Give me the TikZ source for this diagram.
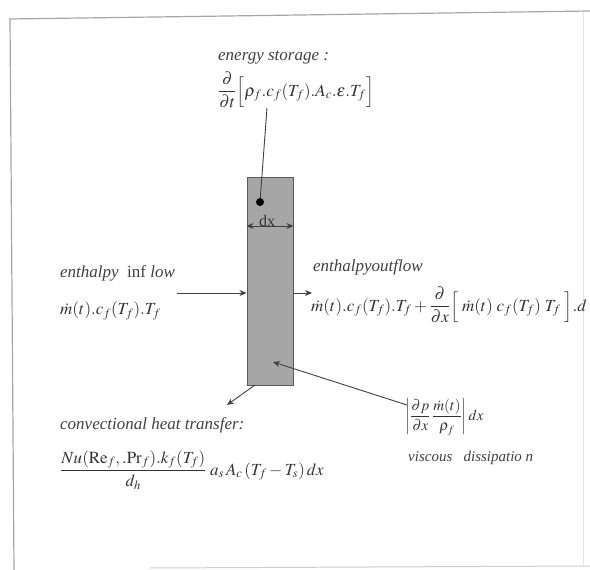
\documentclass[tikz,border=0pt]{standalone}
\usepackage{amsmath}
\usepackage{mathptmx}
\usepackage{fontspec}
\setmainfont{Liberation Serif}
\usetikzlibrary{arrows.meta}
\tikzset{
  frameline/.style={draw=gray!70, line width=1.2pt},
  lbl/.style={anchor=west, inner sep=0pt, text=black!75},
  fml/.style={anchor=west, inner sep=0pt, text=black!80},
  conn/.style={draw=black!75, line width=0.9pt},
  arr/.style={conn, -{Stealth[length=7pt,width=6pt]}},
  cell/.style={draw=black!65, line width=1pt, fill=gray!70, inner sep=0pt, minimum width=46pt, minimum height=208pt}
}
\begin{document}
\begin{tikzpicture}[x=1pt,y=-1pt]
\useasboundingbox (0,0) rectangle (590,570);
% frame
\draw[frameline] (9,19) -- (590,11);
\draw[frameline] (10,19) -- (14,570);
\draw[draw=gray!40, line width=1pt] (150,568) -- (590,566);
\draw[draw=gray!20, line width=0.8pt] (583,12) -- (583,566);
% control volume
\node[cell] (box) at (270,281) {};
% energy storage
\node[lbl, font=\fontsize{17}{19}\selectfont\itshape] (es) at (218,58) {energy storage :};
\node[fml, font=\fontsize{17}{19}\selectfont] (esf) at (218,90) {$\dfrac{\partial}{\partial t}\Big[\rho_f.c_f(T_f).A_c.\varepsilon.T_f\Big]$};
\coordinate (esA) at (267,108);
\node[circle, fill=black, inner sep=0pt, minimum size=8pt] (dot) at (260,202) {};
\draw[conn] (esA) -- (dot);
% dx
\coordinate (dxL) at (box.west |- 0,226);
\coordinate (dxR) at (box.east |- 0,226);
\draw[conn, {Stealth[length=7pt,width=6pt]}-{Stealth[length=7pt,width=6pt]}] (dxL) -- (dxR);
\node[inner sep=0pt, font=\fontsize{16}{18}\selectfont, text=black!80] (dx) at (267,221) {dx};
% inflow
\node[lbl, font=\fontsize{17}{19}\selectfont] (inl) at (60,273) {\textit{enthalpy}\ \ inf \textit{low}};
\node[fml, font=\fontsize{17}{19}\selectfont] (inf) at (60,311) {$\dot m(t).c_f(T_f).T_f$};
\coordinate (inA) at (177,293);
\draw[arr] (inA) -- (inA -| box.west);
% outflow
\node[lbl, font=\fontsize{17}{19}\selectfont\itshape] (outl) at (313,267) {enthalpyoutflow};
\node[fml, font=\fontsize{17}{19}\selectfont] (outf) at (311,305) {$\dot m(t).c_f(T_f).T_f+\dfrac{\partial}{\partial x}\Big[\;\dot m(t)\;c_f(T_f)\;T_f\;\Big].d$};
\coordinate (outA) at (312,293);
\draw[arr] (outA -| box.east) -- (outA);
% convection
\node[lbl, font=\fontsize{17}{19}\selectfont\itshape] (conl) at (60,425) {convectional heat transfer:};
\node[fml, font=\fontsize{17}{19}\selectfont] (conf) at (60,470) {$\dfrac{Nu(\mathrm{Re}_f,.\mathrm{Pr}_f).k_f(T_f)}{d_h}\;a_s\,A_c\,(T_f-T_s)\,dx$};
\coordinate (cvS) at (255,385);
\coordinate (cvE) at (227,405);
\draw[arr] (cvS) -- (cvE);
% viscous
\node[fml, font=\fontsize{15}{17}\selectfont] (visf) at (405,417) {$\left|\dfrac{\partial p}{\partial x}\,\dfrac{\dot m(t)}{\rho_f}\right|dx$};
\node[lbl, font=\fontsize{15}{17}\selectfont\itshape] (visl) at (408,458) {viscous\ \ \ dissipatio n};
\coordinate (vsA) at (407,405);
\coordinate (vsB) at (273,362);
\draw[arr] (vsA) -- (vsB);
\end{tikzpicture}
\end{document}
